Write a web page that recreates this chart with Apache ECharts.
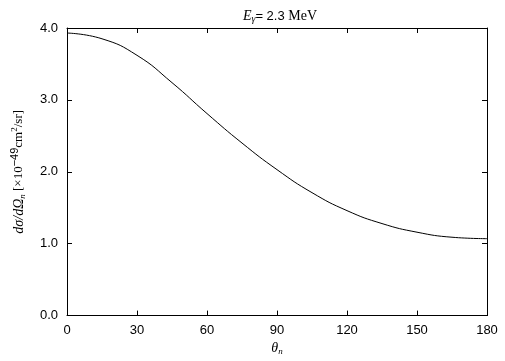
<!DOCTYPE html>
<html>
<head>
<meta charset="utf-8">
<script src="https://cdn.jsdelivr.net/npm/echarts@6/dist/echarts.min.js"></script>
<style>
  html, body { margin: 0; padding: 0; background: #fff; }
  #chart { width: 505px; height: 361px; }
</style>
</head>
<body>
<div id="chart"></div>
<script>
// angle of the neutron (deg) and cross section
const angles = [0, 15, 30, 45, 60, 75, 90, 105, 120, 135, 150, 165, 180];
const sigma = [3.93, 3.85, 3.62, 3.24, 2.81, 2.40, 2.03, 1.71, 1.46, 1.28, 1.16, 1.09, 1.07];
const xTicks = [0, 30, 60, 90, 120, 150, 180];
const yTicks = [0.0, 1.0, 2.0, 3.0, 4.0];

const chart = echarts.init(document.getElementById('chart'));

const sans = 'Liberation Sans';
const serif = 'Liberation Serif';

const axisCommon = {
  axisLine: { show: true, onZero: false, lineStyle: { color: '#000', width: 1 } },
  axisTick: { show: true, inside: true, length: 5, lineStyle: { color: '#000', width: 1 } },
  splitLine: { show: false }
};

chart.setOption({
  animation: false,
  title: {
    text: '{it|E}{sub|γ}{n|= 2.3 }{s|MeV}',
    left: 275, top: 3, textAlign: 'center',
    textStyle: {
      fontWeight: 'normal',
      fontFamily: sans,
      rich: {
        it: { fontFamily: serif, fontStyle: 'italic', fontWeight: 'normal', fontSize: 14, color: '#000' },
        sub: { fontFamily: serif, fontStyle: 'italic', fontWeight: 'normal', fontSize: 10, color: '#000', padding: [6, 0, 0, 0] },
        n: { fontFamily: sans, fontWeight: 'normal', fontSize: 13, color: '#000' },
        s: { fontFamily: serif, fontWeight: 'normal', fontSize: 14, color: '#000' }
      }
    }
  },
  grid: { left: 67, right: 18, top: 28, bottom: 41 },
  xAxis: [
    Object.assign({
      type: 'value', min: 0, max: 180, interval: 30,
      name: '{it|θ}{sub|n}', nameLocation: 'middle', nameGap: 20,
      nameTextStyle: {
        rich: {
          it: { fontFamily: serif, fontStyle: 'italic', fontSize: 14, color: '#000' },
          sub: { fontFamily: serif, fontStyle: 'italic', fontSize: 9, color: '#000', padding: [6, 0, 0, 0] }
        }
      },
      axisLabel: {
        color: '#000', fontFamily: sans, fontSize: 13, margin: 8,
        formatter: v => xTicks.includes(v) ? String(v) : ''
      }
    }, axisCommon),
    Object.assign({
      type: 'value', min: 0, max: 180, interval: 30, position: 'top',
      axisLabel: { show: false }
    }, axisCommon)
  ],
  yAxis: [
    Object.assign({
      type: 'value', min: 0, max: 4, interval: 1,
      name: '{it|dσ/dΩ}{sub|n}{n| [×10}{sup|−49}{n|cm}{sup2|2}{n|/sr]}',
      nameLocation: 'middle', nameGap: 38, nameRotate: 90,
      nameTextStyle: {
        rich: {
          it: { fontFamily: serif, fontStyle: 'italic', fontSize: 14, color: '#000' },
          sub: { fontFamily: serif, fontStyle: 'italic', fontSize: 9, color: '#000', padding: [7, 0, 0, 0] },
          n: { fontFamily: serif, fontSize: 13, color: '#000' },
          sup: { fontFamily: sans, fontSize: 11, color: '#000', padding: [0, 0, 9, 0] },
          sup2: { fontFamily: serif, fontSize: 9, color: '#000', padding: [0, 0, 8, 0] }
        }
      },
      axisLabel: {
        color: '#000', fontFamily: sans, fontSize: 13, margin: 9,
        formatter: v => yTicks.includes(v) ? v.toFixed(1) : ''
      }
    }, axisCommon),
    Object.assign({
      type: 'value', min: 0, max: 4, interval: 1, position: 'right',
      axisLabel: { show: false }
    }, axisCommon)
  ],
  series: [{
    type: 'line',
    xAxisIndex: 0, yAxisIndex: 0,
    data: angles.map((a, i) => [a, sigma[i]]),
    smooth: true,
    showSymbol: false,
    lineStyle: { color: '#000', width: 1 }
  }]
});
</script>
</body>
</html>
